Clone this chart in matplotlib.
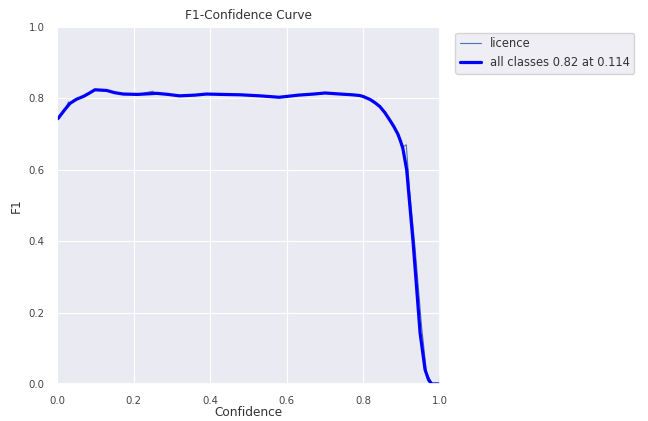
import matplotlib
matplotlib.use('Agg')
import matplotlib.pyplot as plt
import seaborn as sns

# --- DATA ---
conf_all = [0.0, 0.003, 0.02, 0.034, 0.05, 0.07, 0.085, 0.099, 0.115, 0.13, 0.15,
            0.173, 0.21, 0.26, 0.29, 0.32, 0.36, 0.39, 0.43, 0.478, 0.53, 0.58,
            0.63, 0.67, 0.7, 0.74, 0.77, 0.79, 0.80, 0.817, 0.83, 0.843, 0.856,
            0.869, 0.88, 0.89, 0.897, 0.903, 0.913, 0.93, 0.948, 0.961, 0.97,
            0.978, 1.0]
f1_all = [0.742, 0.744, 0.768, 0.786, 0.797, 0.806, 0.815, 0.824, 0.823, 0.822, 0.816,
          0.812, 0.811, 0.814, 0.811, 0.807, 0.809, 0.812, 0.811, 0.81, 0.807, 0.803,
          0.809, 0.812, 0.815, 0.812, 0.81, 0.808, 0.805, 0.797, 0.788, 0.777, 0.76,
          0.739, 0.72, 0.70, 0.68, 0.66, 0.60, 0.394, 0.143, 0.04, 0.012,
          0.0, 0.0]

conf_licence = [0.0, 0.003, 0.02, 0.03, 0.034, 0.05, 0.07, 0.085, 0.099, 0.115, 0.13,
                0.15, 0.173, 0.21, 0.25, 0.26, 0.29, 0.32, 0.36, 0.39, 0.43, 0.478,
                0.53, 0.58, 0.63, 0.67, 0.7, 0.74, 0.77, 0.79, 0.80, 0.817, 0.83,
                0.843, 0.856, 0.869, 0.88, 0.89, 0.897, 0.905, 0.912, 0.92, 0.935,
                0.952, 0.965, 0.98, 1.0]
f1_licence = [0.742, 0.744, 0.768, 0.79, 0.784, 0.797, 0.806, 0.815, 0.824, 0.823, 0.822,
              0.816, 0.812, 0.811, 0.82, 0.812, 0.811, 0.807, 0.809, 0.812, 0.811, 0.81,
              0.807, 0.803, 0.809, 0.812, 0.815, 0.812, 0.81, 0.808, 0.805, 0.797, 0.788,
              0.777, 0.76, 0.739, 0.72, 0.70, 0.68, 0.665, 0.67, 0.55, 0.38,
              0.16, 0.03, 0.0, 0.0]

sns.set_theme(style='darkgrid')
plt.rcParams['font.family'] = ['DejaVu Sans']
plt.rcParams['grid.linewidth'] = 0.8

fig = plt.figure(figsize=(6.48, 4.21), dpi=100)
ax = fig.add_axes([0.088, 0.088, 0.591, 0.848])

ax.plot(conf_licence, f1_licence, linewidth=0.8, color='#4C72B0', label='licence')
ax.plot(conf_all, f1_all, linewidth=2.3, color='blue', label='all classes 0.82 at 0.114')

ax.set_xlim(0, 1)
ax.set_ylim(0, 1)
ax.set_xticks([0.0, 0.2, 0.4, 0.6, 0.8, 1.0])
ax.set_yticks([0.0, 0.2, 0.4, 0.6, 0.8, 1.0])
ax.tick_params(labelsize=7.3, colors='#444444', pad=3)
ax.set_xlabel('Confidence', fontsize=8.7, labelpad=0, color='#333333')
ax.set_ylabel('F1', fontsize=8.7, labelpad=4, color='#333333')
ax.set_title('F1-Confidence Curve', fontsize=8.7, pad=6, color='#333333')
leg = ax.legend(bbox_to_anchor=(1.025, 1), loc='upper left', fontsize=8.3,
                handlelength=1.8)
for t in leg.get_texts():
    t.set_color('#333333')

plt.savefig('out.png', dpi=100)
